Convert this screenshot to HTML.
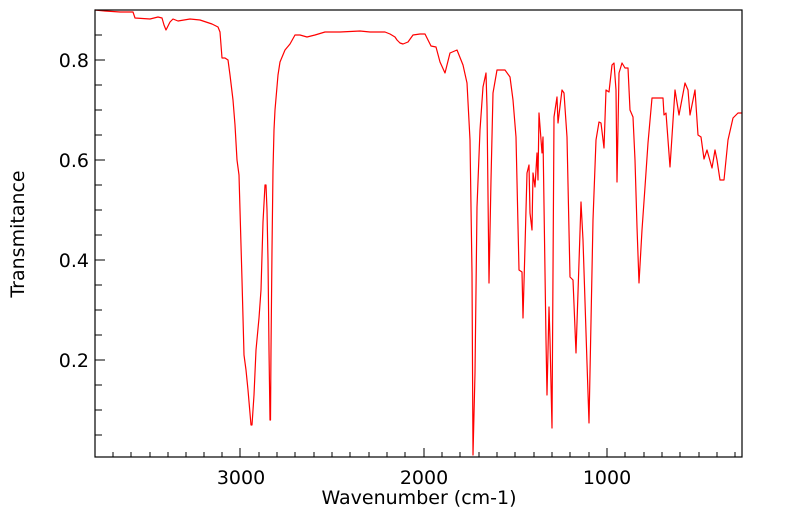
<!DOCTYPE html>
<html><head><meta charset="utf-8"><style>body{margin:0;background:#fff}svg{display:block}</style></head><body>
<svg width="799" height="516" xmlns="http://www.w3.org/2000/svg" font-family="DejaVu Sans, Liberation Sans, sans-serif" font-size="19">
<rect width="799" height="516" fill="#fff"/>
<g stroke="#000" stroke-width="1">
<path d="M102,35H95M105,60H95M102,85H95M102,110H95M102,135H95M105,160H95M102,185H95M102,210H95M102,235H95M105,260H95M102,285H95M102,310H95M102,335H95M105,360H95M102,385H95M102,410H95M102,435H95"/>
<path d="M113,457v-5M131,457v-5M150,457v-5M168,457v-5M186,457v-5M204,457v-5M222,457v-5M240,457v-9M259,457v-5M277,457v-5M295,457v-5M314,457v-5M332,457v-5M350,457v-5M369,457v-5M387,457v-5M405,457v-5M424,457v-9M442,457v-5M460,457v-5M479,457v-5M497,457v-5M515,457v-5M534,457v-5M552,457v-5M570,457v-5M589,457v-5M607,457v-9M625,457v-5M644,457v-5M662,457v-5M680,457v-5M699,457v-5M717,457v-5M735,457v-5"/>
</g>
<polyline fill="none" stroke="#f00" stroke-width="1.2" stroke-linejoin="round" points="95,10 105,11 120,12 133,12 135,18 150,19 158,17 162,18 164,25 166,30 170,22 173,19 178,21 190,19 200,20 212,24 218,27 220,32 221,45 222,58 225,58 228,60 230,75 233,100 235,125 237,160 239,175 240,210 242,280 244,355 246,370 248,390 251,425 252,425 254,395 256,350 259,318 261,290 263,222 265,185 266,185 267,210 268,260 269,350 270,420 270.5,420 271,350 272,250 273,170 274,130 275,110 278,75 280,62 285,50 290,44 295,35 300,35 307,37 315,35 325,32 340,32 360,31 370,32 385,32 390,34 395,37 397,40 400,43 403,44 408,42 413,35 420,34 425,34 428,40 431,46 436,47 440,62 445,73 450,53 457,50 463,65 467,83 470,140 472,273 473,455 475,373 477,207 480,130 483,87 486,73 487,107 489,283 491,180 493,93 497,70 505,70 510,77 513,100 516,137 519,270 522,272 523,318 525,247 527,173 529,165 530,213 532,230 533,173 535,187 537,153 538,180 539,113 542,153 543,137 546,340 547,395 549,307 550,340 552,428 554,117 557,97 558,123 562,90 564,93 567,137 570,277 573,280 576,353 581,202 583,240 587,363 589,423 593,220 596,140 599,122 601,123 604,148 606,90 609,92 612,65 614,63 616,90 617,182 619,73 622,63 625,68 628,68 630,110 633,117 635,160 637,227 639,283 642,230 645,187 648,143 652,98 663,98 664,115 666,113 670,167 675,90 679,115 685,83 688,90 690,115 695,90 698,135 701,137 704,159 707,150 712,168 715,150 717,160 720,180 724,180 728,140 733,118 738,113 742,113"/>
<rect x="95" y="10" width="647" height="447" fill="none" stroke="#000" stroke-width="1.2"/>
<g text-anchor="end"><text x="89" y="67">0.8</text><text x="89" y="167">0.6</text><text x="89" y="267">0.4</text><text x="89" y="367">0.2</text></g>
<g text-anchor="middle"><text x="241" y="484">3000</text><text x="424" y="484">2000</text><text x="607" y="484">1000</text>
<text x="419" y="504">Wavenumber (cm-1)</text>
<text transform="translate(24,234) rotate(-90)">Transmitance</text></g>
</svg>
</body></html>
